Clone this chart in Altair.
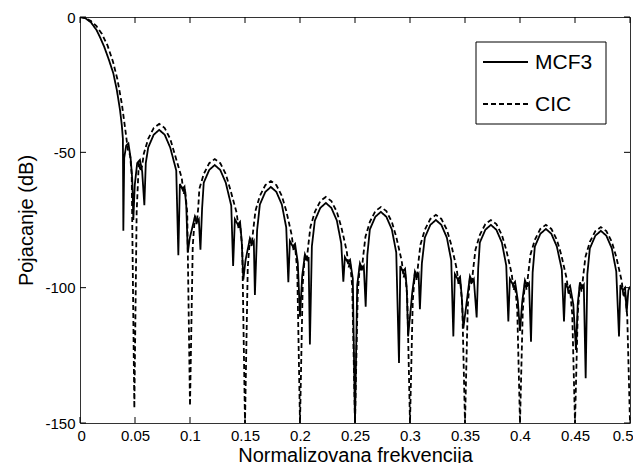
import altair as alt
import pandas as pd

# ---- data ----
x_ticks = [0, 0.05, 0.1, 0.15, 0.2, 0.25, 0.3, 0.35, 0.4, 0.45, 0.5]
y_ticks = [0, -50, -100, -150]
series_names = ["MCF3", "CIC"]

cic_f = [
    0, 0.005, 0.01, 0.015, 0.02, 0.025, 0.03, 0.034, 0.038, 0.041, 0.0435,
    0.0455, 0.047, 0.0494, 0.0515, 0.0535, 0.055, 0.0565,
    0.058, 0.062, 0.067, 0.072, 0.077, 0.082, 0.086,
    0.0925, 0.0942, 0.0955, 0.0975, 0.1, 0.1025, 0.1045, 0.106, 0.1075,
    0.1085, 0.1125, 0.1175, 0.1225, 0.1275, 0.1325, 0.1365,
    0.1425, 0.1442, 0.1455, 0.1475, 0.15, 0.1525, 0.1545, 0.156, 0.1575,
    0.1595, 0.1635, 0.1685, 0.1735, 0.1785, 0.1835, 0.1875,
    0.1925, 0.1942, 0.1955, 0.1975, 0.2, 0.2025, 0.2045, 0.206, 0.2075,
    0.2095, 0.2135, 0.2185, 0.2235, 0.2285, 0.2335, 0.2375,
    0.2425, 0.2442, 0.2455, 0.2475, 0.25, 0.2525, 0.2545, 0.256, 0.2575,
    0.2595, 0.2635, 0.2685, 0.2735, 0.2785, 0.2835, 0.2875,
    0.2925, 0.2942, 0.2955, 0.2975, 0.3, 0.3025, 0.3045, 0.306, 0.3075,
    0.3095, 0.3135, 0.3185, 0.3235, 0.3285, 0.3335, 0.3375,
    0.3425, 0.3442, 0.3455, 0.3475, 0.35, 0.3525, 0.3545, 0.356, 0.3575,
    0.3595, 0.3635, 0.3685, 0.3735, 0.3785, 0.3835, 0.3875,
    0.3925, 0.3942, 0.3955, 0.3975, 0.4, 0.4025, 0.4045, 0.406, 0.4075,
    0.4095, 0.4135, 0.4185, 0.4235, 0.4285, 0.4335, 0.4375,
    0.4425, 0.4442, 0.4455, 0.4475, 0.45, 0.4525, 0.4545, 0.456, 0.4575,
    0.4595, 0.4635, 0.4685, 0.4735, 0.4785, 0.4835, 0.4875,
    0.4925, 0.4942, 0.4955, 0.4975, 0.5,
]
cic_db = [
    0, -0.4, -1.5, -3.4, -6.3, -10.5, -16.5, -23, -32, -41, -49,
    -51, -58, -144.5, -72, -53.5, -57, -55,
    -50.5, -45, -41, -39.5, -41, -45, -50.5,
    -59.5, -65.5, -63.5, -72.5, -143.6, -84.5, -73.5, -76.5, -70.5,
    -63.5, -58, -54, -52.5, -54, -58, -63.5,
    -72.5, -78.5, -76.5, -85.5, -150, -92.6, -81.6, -84.6, -78.6,
    -71.6, -66.1, -62.1, -60.6, -62.1, -66.1, -71.6,
    -80.6, -86.6, -84.6, -93.6, -150, -98.5, -87.5, -90.5, -84.5,
    -77.5, -72, -68, -66.5, -68, -72, -77.5,
    -86.5, -92.5, -90.5, -99.5, -150, -102.2, -91.2, -94.2, -88.2,
    -81.2, -75.7, -71.7, -70.2, -71.7, -75.7, -81.2,
    -90.2, -96.2, -94.2, -103.2, -150, -105.1, -94.1, -97.1, -91.1,
    -84.1, -78.6, -74.6, -73.1, -74.6, -78.6, -84.1,
    -93.1, -99.1, -97.1, -106.1, -150, -107, -96, -99, -93,
    -86, -80.5, -76.5, -75, -76.5, -80.5, -86,
    -95, -101, -99, -108, -150, -108.8, -97.8, -100.8, -94.8,
    -87.8, -82.3, -78.3, -76.8, -78.3, -82.3, -87.8,
    -96.8, -102.8, -100.8, -109.8, -150, -109.6, -98.6, -101.6, -95.6,
    -88.6, -83.1, -79.1, -77.6, -79.1, -83.1, -88.6,
    -97.6, -103.6, -101.6, -110.6, -150,
]

mcf_f = [
    0, 0.005, 0.01, 0.015, 0.018, 0.022, 0.026, 0.0303, 0.0335, 0.0364, 0.038, 0.039,
    0.0394, 0.0402, 0.042, 0.044, 0.046, 0.0475, 0.0485, 0.0498, 0.052, 0.0545, 0.0565, 0.0585, 0.0598,
    0.062, 0.067, 0.072, 0.077, 0.082,
    0.0875, 0.0894, 0.0908, 0.0932, 0.095, 0.0966, 0.098, 0.0998, 0.1045, 0.1065, 0.108, 0.1095, 0.111,
    0.1125, 0.1175, 0.1225, 0.1275, 0.1325,
    0.1375, 0.1392, 0.1408, 0.1435, 0.1455, 0.147, 0.1485, 0.1505, 0.1545, 0.1565, 0.158, 0.159, 0.161,
    0.1635, 0.1685, 0.1735, 0.1785, 0.1835,
    0.1875, 0.1894, 0.1908, 0.1935, 0.1955, 0.198, 0.2, 0.202, 0.2045, 0.2065, 0.2078, 0.209, 0.2108,
    0.2135, 0.2185, 0.2235, 0.2285, 0.2335,
    0.2375, 0.2394, 0.2408, 0.2435, 0.2455, 0.248, 0.25, 0.252, 0.2545, 0.2565, 0.258, 0.2597, 0.2612,
    0.2635, 0.2685, 0.2735, 0.2785, 0.2835,
    0.2875, 0.29, 0.2912, 0.2935, 0.2955, 0.297, 0.2983, 0.302, 0.3045, 0.3065, 0.3078, 0.309, 0.3108,
    0.3135, 0.3185, 0.3235, 0.3285, 0.3335,
    0.3375, 0.3394, 0.3408, 0.3435, 0.3455, 0.347, 0.3485, 0.352, 0.3545, 0.3565, 0.358, 0.3606, 0.362,
    0.3635, 0.3685, 0.3735, 0.3785, 0.3835,
    0.3875, 0.3894, 0.3908, 0.3935, 0.3955, 0.398, 0.4, 0.402, 0.4045, 0.4065, 0.4082, 0.41, 0.4115,
    0.4135, 0.4185, 0.4235, 0.4285, 0.4335,
    0.438, 0.44, 0.4413, 0.4435, 0.4455, 0.4485, 0.4509, 0.4525, 0.4545, 0.4565, 0.458, 0.4597, 0.4612,
    0.4635, 0.4685, 0.4735, 0.4785, 0.4835,
    0.4875, 0.49, 0.4913, 0.4935, 0.4955, 0.497, 0.4985, 0.5,
]
mcf_db = [
    0, -0.5, -2, -4.8, -7.3, -11, -15.5, -20.8, -27, -34.4, -40, -45,
    -79, -52, -47.5, -46.7, -52, -60, -75, -62, -54, -52.8, -57, -69.5, -54,
    -48.2, -43.5, -41.7, -43.5, -48.2,
    -56.7, -88, -61.7, -63.7, -62.7, -69.7, -87, -81.7, -73.7, -75.7, -74.7, -86, -70.7,
    -61.2, -56.5, -54.7, -56.5, -61.2,
    -69.7, -92, -74.7, -76.7, -75.7, -82.7, -97, -89.8, -81.8, -83.8, -82.8, -102.7, -78.8,
    -69.3, -64.6, -62.8, -64.6, -69.3,
    -77.8, -98, -82.8, -84.8, -83.8, -90.8, -110.7, -95.7, -87.7, -89.7, -88.7, -121, -84.7,
    -75.2, -70.5, -68.7, -70.5, -75.2,
    -83.7, -97.8, -88.7, -90.7, -89.7, -96.7, -150, -99, -91, -93, -92, -107, -88,
    -78.5, -73.8, -72, -73.8, -78.5,
    -87, -127.8, -92, -94, -93, -100, -118, -102, -94, -96, -95, -108, -91,
    -81.5, -76.8, -75, -76.8, -81.5,
    -90, -118, -95, -97, -96, -103, -115, -103.8, -95.8, -97.8, -96.8, -111, -92.8,
    -83.3, -78.6, -76.8, -78.6, -83.3,
    -91.8, -112.5, -96.8, -98.8, -97.8, -104.8, -116, -105.3, -97.3, -99.3, -98.3, -120, -94.3,
    -84.8, -80.1, -78.3, -80.1, -84.8,
    -93.3, -112.5, -98.3, -100.3, -99.3, -106.3, -123, -106, -98, -100, -99, -133.5, -95,
    -85.5, -80.8, -79, -80.8, -85.5,
    -94, -118, -99, -101, -100, -109, -101, -99.6,
]

FONT = "Liberation Sans"
W, H = 550, 406
TICK = 6
DASH = [5, 3]
LW = 1.8
X_TITLE = "Normalizovana frekvencija"
Y_TITLE = "Pojacanje (dB)"

df = pd.concat([
    pd.DataFrame({"f": mcf_f, "db": mcf_db, "series": series_names[0]}),
    pd.DataFrame({"f": cic_f, "db": cic_db, "series": series_names[1]}),
], ignore_index=True)

xscale = alt.Scale(domain=[0, 0.5], nice=False, zero=False)
yscale = alt.Scale(domain=[-150, 0], nice=False, zero=False)

x_axis = alt.Axis(values=x_ticks, format="~g", ticks=False, domain=False, grid=False,
                  labelPadding=5, titlePadding=2, labelFlush=True, labelFlushOffset=3)
y_axis = alt.Axis(values=y_ticks, labelExpr="datum.value + ''", ticks=False, domain=False,
                  grid=False, labelPadding=5, titlePadding=8, labelFlush=False)

lines = alt.Chart(df).mark_line(color="black", strokeWidth=LW, clip=True).encode(
    x=alt.X("f:Q", scale=xscale, title=X_TITLE, axis=x_axis),
    y=alt.Y("db:Q", scale=yscale, title=Y_TITLE, axis=y_axis),
    strokeDash=alt.StrokeDash(
        "series:N",
        scale=alt.Scale(domain=series_names, range=[[1, 0], DASH]),
        legend=None,
    ),
)

xt = pd.DataFrame({"f": x_ticks})
yt = pd.DataFrame({"db": y_ticks})

def xenc():
    return alt.X("f:Q", scale=xscale, title=X_TITLE, axis=x_axis)

def yenc():
    return alt.Y("db:Q", scale=yscale, title=Y_TITLE, axis=y_axis)

tick_bottom = alt.Chart(xt).mark_rule(color="black", strokeWidth=1).encode(
    x=xenc(), y=alt.value(H), y2=alt.value(H - TICK))
tick_top = alt.Chart(xt).mark_rule(color="black", strokeWidth=1).encode(
    x=xenc(), y=alt.value(0), y2=alt.value(TICK))
tick_left = alt.Chart(yt).mark_rule(color="black", strokeWidth=1).encode(
    y=yenc(), x=alt.value(0), x2=alt.value(TICK))
tick_right = alt.Chart(yt).mark_rule(color="black", strokeWidth=1).encode(
    y=yenc(), x=alt.value(W), x2=alt.value(W - TICK))

# ---- legend box (drawn by hand, placed in pixels inside the plot) ----
LX0, LX1, LY0, LY1 = 396, 526, 25, 107
ROW1, ROW2 = 45, 87
SX0, SX1, TX = 403, 448, 455

leg_df = pd.DataFrame({"series": series_names})
one = alt.Chart(leg_df).transform_filter(alt.datum.series == series_names[0])
two = alt.Chart(leg_df).transform_filter(alt.datum.series == series_names[1])

leg_box = one.mark_rect(fill="white", stroke="black", strokeWidth=1).encode(
    x=alt.value(LX0), x2=alt.value(LX1), y=alt.value(LY0), y2=alt.value(LY1))
leg_solid = one.mark_rule(color="black", strokeWidth=LW).encode(
    x=alt.value(SX0), x2=alt.value(SX1), y=alt.value(ROW1))
leg_dash = two.mark_rule(color="black", strokeWidth=LW, strokeDash=DASH).encode(
    x=alt.value(SX0), x2=alt.value(SX1), y=alt.value(ROW2))
leg_t1 = one.mark_text(font=FONT, fontSize=21, fontWeight="normal", align="left",
                       baseline="middle", color="black").encode(
    x=alt.value(TX), y=alt.value(ROW1 + 1), text="series:N")
leg_t2 = two.mark_text(font=FONT, fontSize=21, fontWeight="normal", align="left",
                       baseline="middle", color="black").encode(
    x=alt.value(TX), y=alt.value(ROW2 + 1), text="series:N")

chart = alt.layer(
    lines, tick_bottom, tick_top, tick_left, tick_right,
    leg_box, leg_solid, leg_dash, leg_t1, leg_t2,
).properties(
    width=W, height=H,
    autosize=alt.AutoSizeParams(type="none"),
    padding={"left": 72, "top": 9, "right": 3, "bottom": 40},
    background="white",
).configure_view(
    stroke="#333", strokeWidth=1
).configure_axis(
    labelFont=FONT, labelFontSize=15, labelColor="black",
    titleFont=FONT, titleFontSize=20, titleFontWeight="normal", titleColor="black",
)

chart.save("out.html", embed_options={"renderer": "svg", "actions": False})
